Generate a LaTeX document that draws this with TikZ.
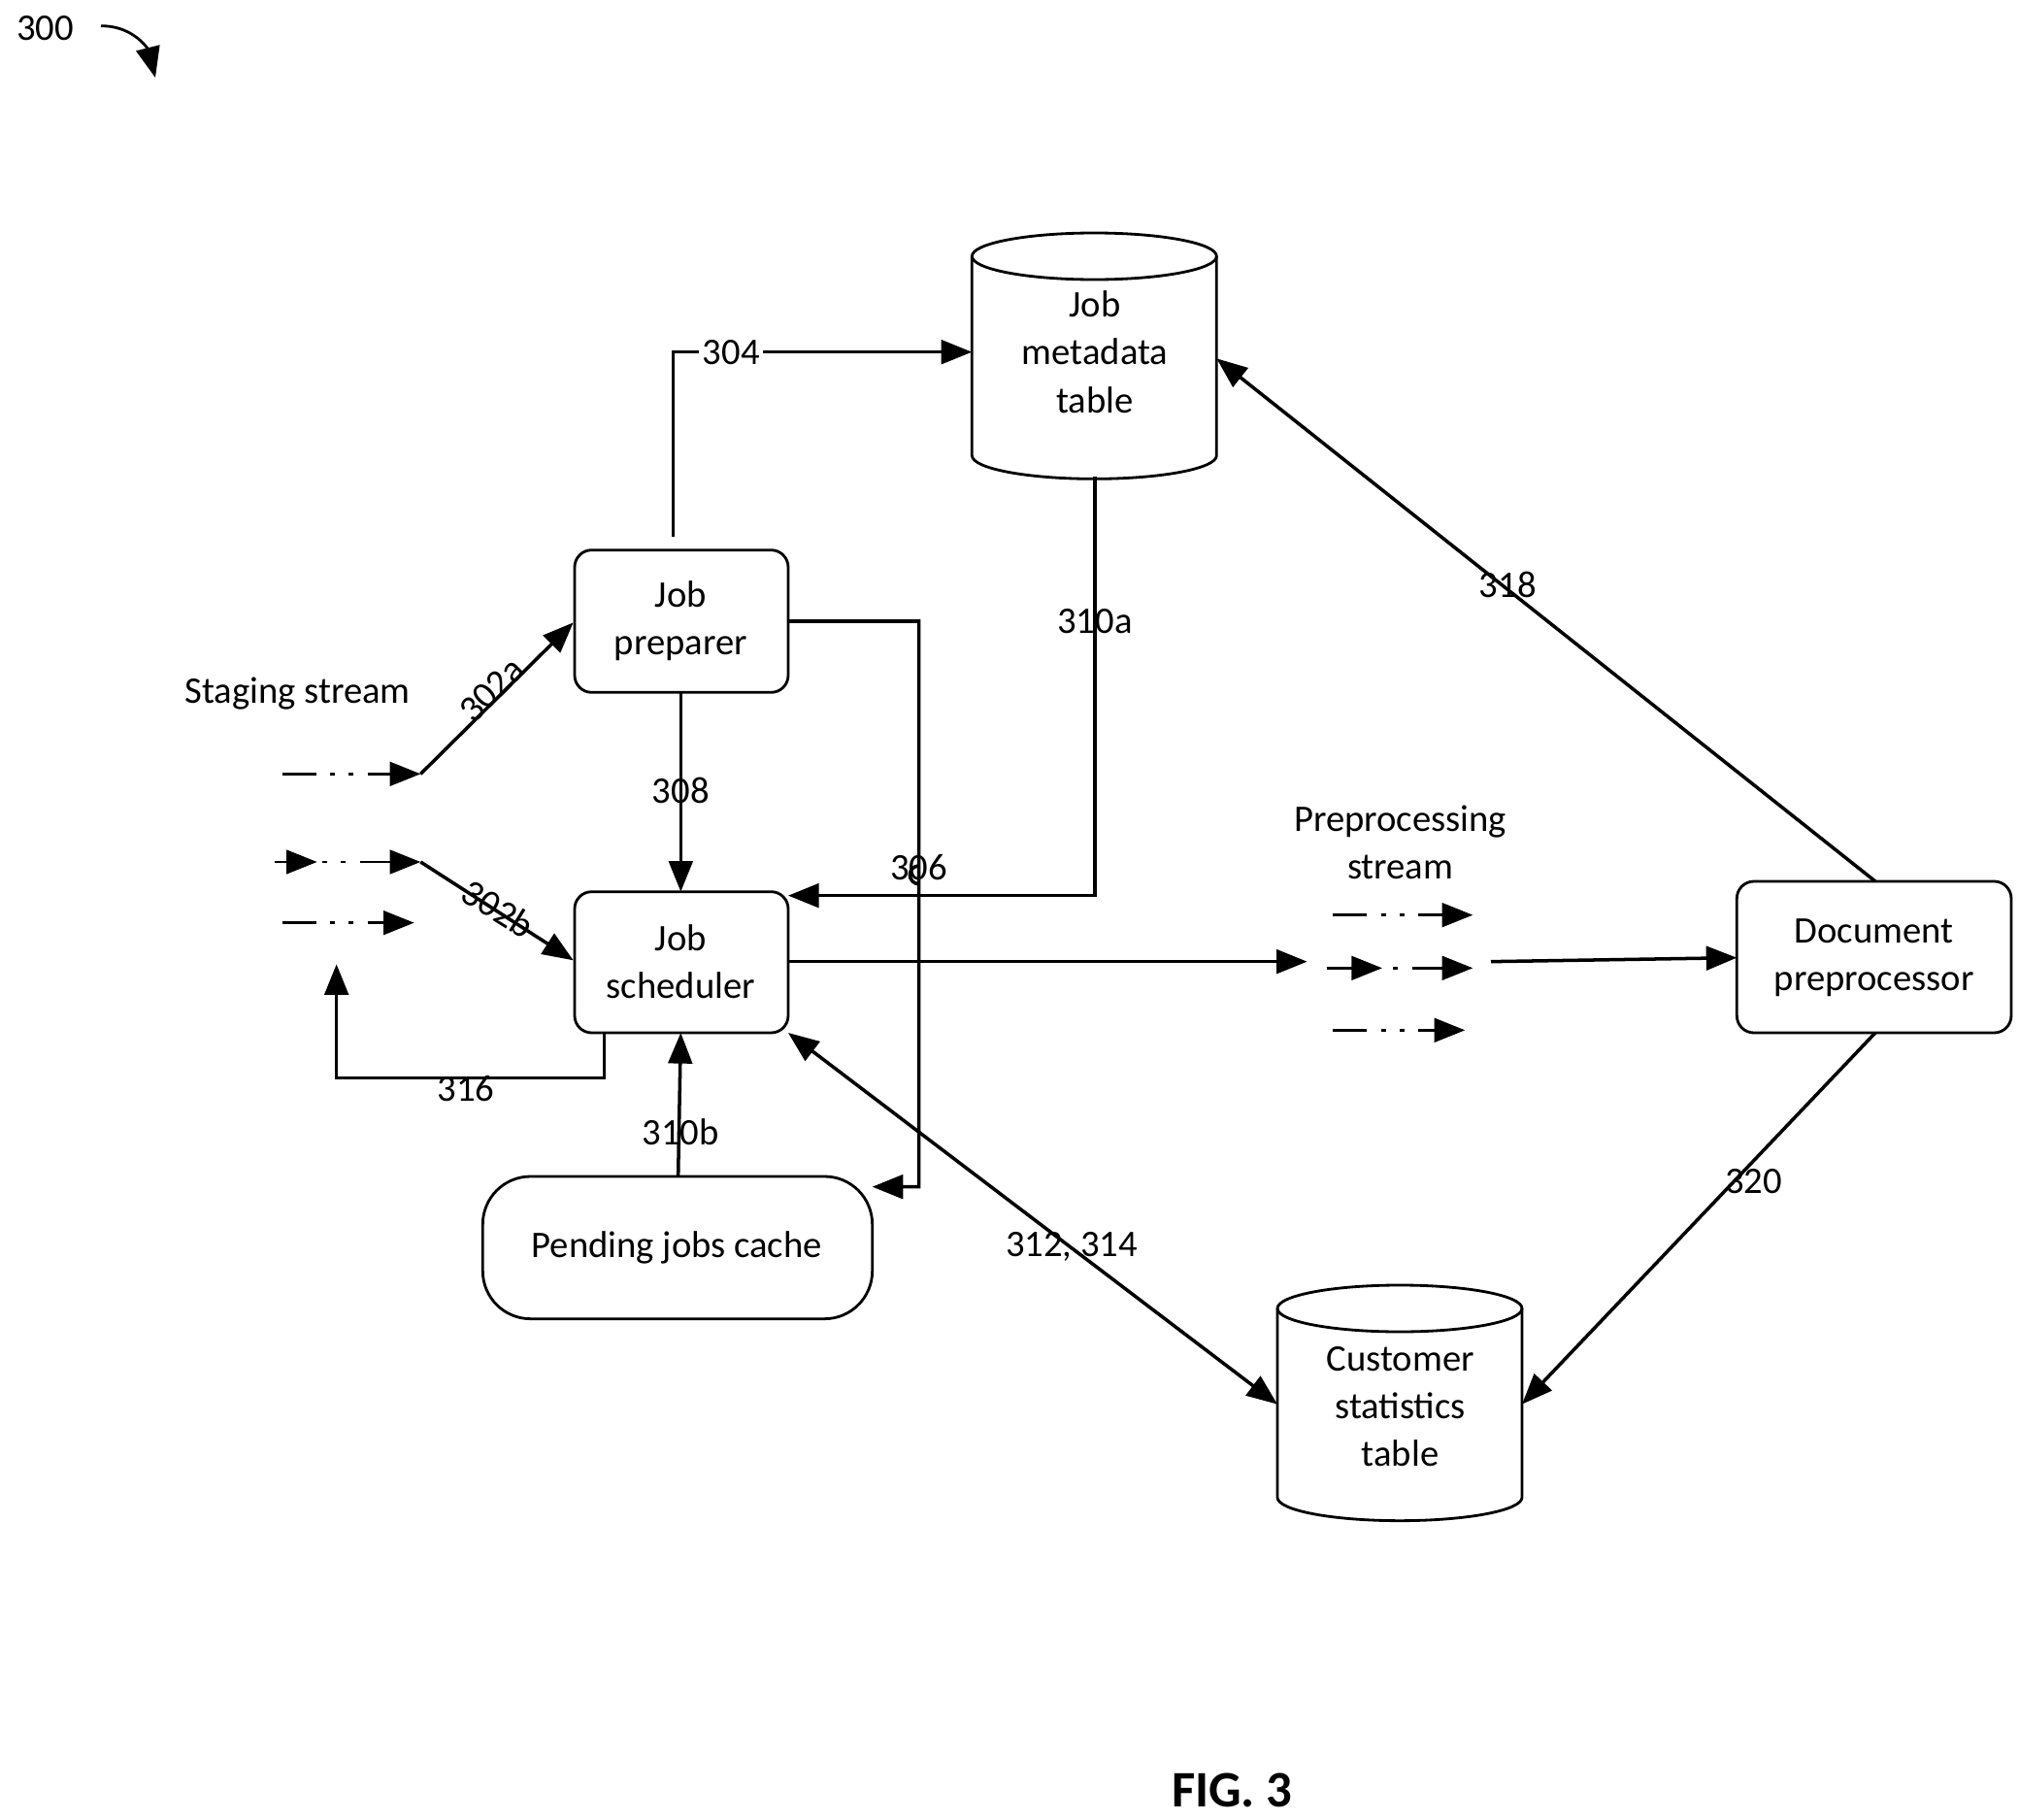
\documentclass[tikz,border=0pt]{standalone}
\usepackage{fontspec}
\setmainfont{Carlito}
\usetikzlibrary{arrows.meta}
\begin{document}
\begin{tikzpicture}[x=0.01333cm,y=-0.01333cm,
  every node/.style={font=\fontsize{11}{13}\selectfont},
  arr/.style={-{Triangle[length=9pt,width=7pt]},line width=1pt},
  st/.style={line width=0.8pt,dash pattern=on 10pt off 4pt on 1.5pt off 4pt on 1.5pt off 4pt},
  bx/.style={line width=0.8pt,rounded corners=5pt}]
\useasboundingbox (0,0) rectangle (1560,1406);
\node at (35,22) {300};
\draw[arr,line width=0.8pt] (78,20) .. controls (105,20) and (115,40) .. (120,60);
\newcommand{\cyl}[5]{%
  \draw[line width=0.8pt] (#1,#3) -- (#1,#4) arc[start angle=180,end angle=0,x radius={(#2-#1)/2},y radius=18] -- (#2,#3);
  \draw[line width=0.8pt] ({(#1+#2)/2},#3) ellipse[x radius={(#2-#1)/2},y radius=18];
  \coordinate (#5) at ({(#1+#2)/2},{(#3+#4)/2});}
\cyl{751}{940}{198}{352}{jmt}
\node[align=center] at (846,272) {Job\\[1pt]metadata\\[1pt]table};
\cyl{987}{1176}{1011}{1157}{cst}
\node[align=center] at (1082,1087) {Customer\\[1pt]statistics\\[1pt]table};
\draw[bx] (444,425) rectangle (609,535);
\node[align=center] (jp) at (526,480) {Job\\[1pt]preparer};
\draw[bx] (444,689) rectangle (609,798);
\node[align=center] (js) at (526,743) {Job\\[1pt]scheduler};
\draw[bx,rounded corners=14pt] (373,909) rectangle (674,1019);
\node (pjc) at (523,964) {Pending jobs cache};
\draw[bx] (1342,681) rectangle (1554,798);
\node[align=center] (dp) at (1448,740) {Document\\[1pt]preprocessor};
\node at (230,536) {Staging stream};
\coordinate (s1) at (325,598); \coordinate (s2) at (325,666);
\draw[st,arr,line width=0.8pt] (218,598) -- (s1);
\draw[st,line width=0.8pt] (212,666) -- (325,666);
\draw[arr,line width=0.8pt] (212,666) -- (245,666);
\draw[arr,line width=0.8pt] (300,666) -- (s2);
\draw[st,arr,line width=0.8pt] (218,713) -- (320,713);
\draw[arr] (s1) -- (443,481);
\node[rotate=45] at (380,533) {302a};
\draw[arr] (s2) -- (443,742);
\node[rotate=-32] at (385,702) {302b};
\draw[arr] (520,415) -- (520,272) -- (751,272);
\node[fill=white,inner sep=1pt] at (565,272) {304};
\draw[arr] (526,535) -- (526,689);
\node at (526,611) {308};
\draw[arr] (609,480) -- (710,480) -- (710,683) arc[start angle=90,end angle=270,radius=7] -- (710,917) -- (674,917);
\node at (710,670) {306};
\draw[arr] (846,368) -- (846,692) -- (609,692);
\node at (846,480) {310a};
\draw[arr] (524,909) -- (526,798);
\node at (526,875) {310b};
\draw[arr] (467,798) -- (467,833) -- (260,833) -- (260,745);
\node at (360,841) {316};
\draw[arr] (609,743) -- (1010,743);
\node[align=center] at (1082,651) {Preprocessing\\[1pt]stream};
\draw[st,arr,line width=0.8pt] (1030,707) -- (1138,707);
\draw[st,line width=0.8pt] (1025,748) -- (1138,748);
\draw[arr,line width=0.8pt] (1025,748) -- (1068,748);
\draw[arr,line width=0.8pt] (1110,748) -- (1138,748);
\draw[st,arr,line width=0.8pt] (1030,796) -- (1132,796);
\draw[arr] (1152,743) -- (1342,740);
\draw[arr] (1449,681) -- (940,277);
\node at (1165,452) {318};
\draw[arr] (1449,798) -- (1176,1085);
\node at (1355,913) {320};
\draw[{Triangle[length=9pt,width=7pt]}-{Triangle[length=9pt,width=7pt]},line width=1pt] (609,798) -- (987,1085);
\node at (828,963) {312, 314};
\node[font=\fontsize{15}{18}\selectfont\bfseries] at (952,1383) {FIG. 3};
\end{tikzpicture}
\end{document}
